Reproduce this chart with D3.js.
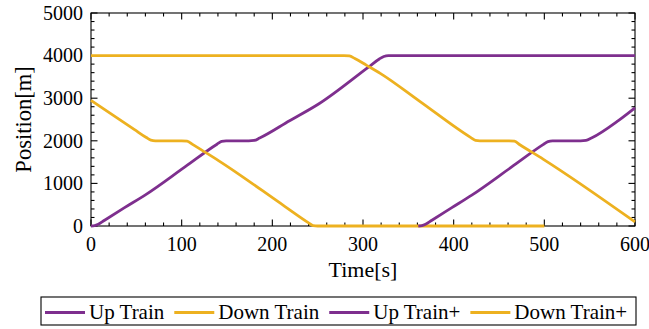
<!DOCTYPE html>
<html>
<head>
<meta charset="utf-8">
<script src="https://cdn.jsdelivr.net/npm/d3@7"></script>
<style>
html,body{margin:0;padding:0;background:#fff;}
svg{display:block;}
</style>
</head>
<body>
<svg id="chart" width="649" height="329"></svg>
<script>
// ---- data (time [s], position [m]) ----
const upTrain = [[0,0],[4,8],[8,40],[15,135],[37,430],[60,730],[104,1392],[139,1920],[144,1985],[149,2000],[174,2000],[180,2008],[186,2065],[219,2471],[251,2864],[306,3730],[318,3920],[323,3980],[328,4000],[600,4000]];
const downTrain = [[0,2950],[48,2262],[61,2076],[66,2015],[71,2000],[100,2000],[106,1992],[112,1915],[123,1770],[141,1530],[214,457],[240,75],[245,8],[250,0],[500,0]];
const upTrainPlus = [[361,0],[365,8],[369,40],[376,135],[398,430],[420,725],[464,1387],[499,1915],[504,1982],[509,2000],[540,2000],[546,2010],[552,2065],[582,2480],[600,2775]];
const downTrainPlus = [[0,4000],[279,4000],[285,3992],[291,3932],[304,3771],[319,3584],[363,2920],[419,2075],[424,2010],[429,2000],[461,2000],[467,1990],[473,1908],[499,1565],[600,95]];

const seriesNames = ["Up Train","Down Train","Up Train+","Down Train+"];
const seriesData = [upTrain, downTrain, upTrainPlus, downTrainPlus];
const seriesColors = ["#7E2F8E","#EDB120","#7E2F8E","#EDB120"];

const xTicks = [0,100,200,300,400,500,600];
const yTicks = [0,1000,2000,3000,4000,5000];
const xLabel = "Time[s]";
const yLabel = "Position[m]";

// ---- layout ----
const FONT = "'Liberation Serif'";
const L = 91, R = 635, T = 13, B = 226;
const svg = d3.select("#chart");
const x = d3.scaleLinear().domain([0,600]).range([L,R]);
const y = d3.scaleLinear().domain([0,5000]).range([B,T]);

const xMinor = d3.range(0,601,20);
const yMinor = d3.range(0,5001,200);
const majLen = 6.5, minLen = 3.5;

const g = svg.append("g");
g.append("rect").attr("x",L).attr("y",T).attr("width",R-L).attr("height",B-T)
  .attr("fill","none").attr("stroke","#000").attr("stroke-width",1.1);

const tk = g.append("g").attr("stroke","#000").attr("stroke-width",1.1);
xMinor.forEach(v=>{
  const len = xTicks.includes(v)?majLen:minLen;
  tk.append("line").attr("x1",x(v)).attr("x2",x(v)).attr("y1",B).attr("y2",B-len);
  tk.append("line").attr("x1",x(v)).attr("x2",x(v)).attr("y1",T).attr("y2",T+len);
});
yMinor.forEach(v=>{
  const len = yTicks.includes(v)?majLen:minLen;
  tk.append("line").attr("y1",y(v)).attr("y2",y(v)).attr("x1",L).attr("x2",L+len);
  tk.append("line").attr("y1",y(v)).attr("y2",y(v)).attr("x1",R).attr("x2",R-len);
});

g.selectAll(".xt").data(xTicks).enter().append("text")
  .style("font-family",FONT).style("font-size","20px").attr("fill","#000")
  .attr("x",d=>x(d)).attr("y",B+25).attr("text-anchor","middle")
  .text(d=>d);
g.selectAll(".yt").data(yTicks).enter().append("text")
  .style("font-family",FONT).style("font-size","20px").attr("fill","#000")
  .attr("x",L-8).attr("y",d=>y(d)+6.8).attr("text-anchor","end")
  .text(d=>d);

g.append("text").style("font-family",FONT).style("font-size","22px")
  .attr("x",(L+R)/2).attr("y",277).attr("text-anchor","middle").text(xLabel);
g.append("text").style("font-family",FONT).style("font-size","22.5px")
  .attr("transform",`translate(31,${(T+B)/2}) rotate(-90)`)
  .attr("text-anchor","middle").text(yLabel);

const line = d3.line().x(d=>x(d[0])).y(d=>y(d[1])).curve(d3.curveMonotoneX);
seriesData.forEach((s,i)=>{
  g.append("path").attr("d",line(s)).attr("fill","none")
    .attr("stroke",seriesColors[i]).attr("stroke-width",2.8)
    .attr("stroke-linejoin","round").attr("stroke-linecap","butt");
});

const lg = svg.append("g");
lg.append("rect").attr("x",41).attr("y",297).attr("width",595).attr("height",28)
  .attr("fill","#fff").attr("stroke","#000").attr("stroke-width",1.1);
let cx = 45;
const ly = 312.5;
seriesNames.forEach((n,i)=>{
  lg.append("line").attr("x1",cx).attr("x2",cx+40).attr("y1",ly).attr("y2",ly)
    .attr("stroke",seriesColors[i]).attr("stroke-width",2.8);
  const t = lg.append("text").style("font-family",FONT).style("font-size","21px")
    .attr("x",cx+44).attr("y",318.5).text(n);
  const w = t.node().getComputedTextLength();
  cx = cx + 44 + w + 10;
});
</script>
</body>
</html>
